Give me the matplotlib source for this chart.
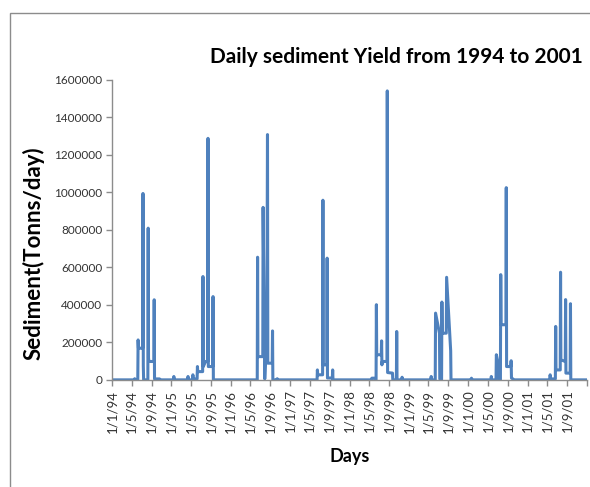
import matplotlib
matplotlib.use("Agg")
import matplotlib.pyplot as plt
import matplotlib.dates as mdates
from matplotlib.ticker import FuncFormatter
from matplotlib.patches import Rectangle
import pandas as pd

# daily sediment yield (tonnes/day), storm events between flat dry-season stretches
dates = [
    "1994-01-01",
    # 1994
    "1994-05-18", "1994-05-20", "1994-05-22", "1994-06-08", "1994-06-10", "1994-06-12",
    "1994-07-08", "1994-07-10", "1994-07-12", "1994-07-14", "1994-08-09", "1994-08-11",
    "1994-08-13", "1994-08-15", "1994-09-15", "1994-09-17", "1994-09-19", "1994-10-20",
    "1994-10-22", "1995-01-14", "1995-01-16", "1995-01-18",
    # 1995
    "1995-04-11", "1995-04-13", "1995-04-15", "1995-05-11", "1995-05-13", "1995-05-15",
    "1995-06-08", "1995-06-10", "1995-06-12", "1995-07-12", "1995-07-14", "1995-07-16",
    "1995-07-30", "1995-08-12", "1995-08-14", "1995-08-16", "1995-09-12", "1995-09-14",
    "1995-09-16",
    # 1996
    "1996-06-12", "1996-06-14", "1996-06-16", "1996-07-16", "1996-07-18", "1996-07-28",
    "1996-08-10", "1996-08-14", "1996-08-16", "1996-09-12", "1996-09-14", "1996-09-16",
    "1996-10-11", "1996-10-13", "1996-10-15",
    # 1997
    "1997-06-15", "1997-06-17", "1997-06-19", "1997-07-19", "1997-07-21", "1997-07-23",
    "1997-08-14", "1997-08-16", "1997-08-18", "1997-09-17", "1997-09-19", "1997-09-21",
    # 1998
    "1998-05-16", "1998-05-18", "1998-06-01", "1998-06-13", "1998-06-15", "1998-06-17",
    "1998-07-15", "1998-07-17", "1998-07-19", "1998-07-21", "1998-08-19", "1998-08-21",
    "1998-08-23", "1998-09-22", "1998-09-24", "1998-10-16", "1998-10-18", "1998-10-20",
    "1998-11-18", "1998-11-20", "1998-11-22",
    # 1999
    "1999-05-16", "1999-05-18", "1999-05-20", "1999-06-12", "1999-06-14", "1999-07-08",
    "1999-07-10", "1999-07-21", "1999-07-23", "1999-07-25", "1999-08-19", "1999-08-21",
    "1999-09-15", "1999-09-17",
    # 2000
    "2000-01-19", "2000-01-21", "2000-01-23", "2000-05-20", "2000-05-22", "2000-05-24",
    "2000-06-20", "2000-06-22", "2000-07-07", "2000-07-09", "2000-07-17", "2000-07-19",
    "2000-07-21", "2000-08-20", "2000-08-22", "2000-08-24", "2000-09-19", "2000-09-21",
    "2000-09-23", "2000-10-10",
    # 2001
    "2001-05-17", "2001-05-19", "2001-05-21", "2001-06-20", "2001-06-22", "2001-06-24",
    "2001-07-20", "2001-07-22", "2001-07-24", "2001-08-20", "2001-08-22", "2001-08-24",
    "2001-09-19", "2001-09-21", "2001-09-23", "2001-12-31",
]
sediment = [
    0,
    # 1994
    0, 6000, 0, 0, 213000, 169000,
    169000, 994000, 75000, 0, 0, 809000,
    117000, 98000, 98000, 427000, 5000, 5000,
    0, 0, 18000, 0,
    # 1995
    0, 18000, 0, 0, 27000, 5000,
    5000, 71000, 44000, 44000, 551000, 71000,
    98000, 98000, 1288000, 71000, 71000, 444000,
    0,
    # 1996
    0, 654000, 124000, 124000, 920000, 5000,
    258000, 1308000, 89000, 89000, 261000, 0,
    0, 6000, 0,
    # 1997
    0, 53000, 27000, 27000, 958000, 80000,
    80000, 649000, 10000, 10000, 53000, 0,
    # 1998
    0, 9000, 9000, 0, 401000, 134000,
    134000, 208000, 80000, 98000, 98000, 1541000,
    39000, 36000, 0, 0, 258000, 0,
    0, 14000, 0,
    # 1999
    0, 18000, 0, 0, 356000, 249000,
    5000, 0, 415000, 249000, 249000, 547000,
    155000, 0,
    # 2000
    0, 9000, 0, 0, 18000, 0,
    0, 134000, 71000, 0, 0, 561000,
    294000, 294000, 1025000, 71000, 71000, 102000,
    10000, 0,
    # 2001
    0, 27000, 5000, 5000, 285000, 53000,
    53000, 574000, 107000, 98000, 428000, 36000,
    36000, 406000, 0, 0,
]
yticks = [0, 200000, 400000, 600000, 800000, 1000000, 1200000, 1400000, 1600000]

plt.rcParams["font.family"] = ["Lato", "DejaVu Sans"]

fig = plt.figure(figsize=(5.9, 4.87), dpi=100)
ax = fig.add_axes([0.19, 0.22, 0.805, 0.616])

t = pd.to_datetime(dates)
ax.plot(t, sediment, color="#4F81BD", linewidth=2.2, solid_joinstyle="round")

ax.set_xlim(pd.Timestamp("1994-01-01"), pd.Timestamp("2002-01-01"))
ax.set_ylim(0, 1600000)
ax.set_yticks(yticks)
ax.yaxis.set_major_formatter(FuncFormatter(lambda v, p: f"{int(v)}"))

ax.xaxis.set_major_locator(mdates.MonthLocator(bymonth=[1, 5, 9]))
def date_label(v, p):
    d = mdates.num2date(v)
    if d.year > 2001:
        return ""
    return f"{d.day}/{d.month}/{d:%y}"
ax.xaxis.set_major_formatter(FuncFormatter(date_label))
plt.setp(ax.get_xticklabels(), rotation=90)

for side in ("top", "right"):
    ax.spines[side].set_visible(False)
for side in ("left", "bottom"):
    ax.spines[side].set_color("#8c8c8c")
    ax.spines[side].set_linewidth(1.0)
ax.tick_params(axis="both", colors="#8c8c8c", length=4, width=1.0, direction="out")
ax.tick_params(axis="y", labelsize=8.5, labelcolor="#333333", pad=3)
ax.tick_params(axis="x", labelsize=9.5, labelcolor="#333333", pad=3)

fig.text(0.987, 0.883, "Daily sediment Yield from 1994 to 2001", ha="right", va="center",
         fontsize=15, fontweight="bold")
fig.text(0.056, 0.48, "Sediment(Tonns/day)", rotation=90, ha="center", va="center",
         fontsize=16, fontweight="bold")
fig.text(0.593, 0.062, "Days", ha="center", va="center", fontsize=13, fontweight="bold")

# chart border
fig.patches.append(Rectangle((10 / 590, -0.05), 1.2, 1 - 13 / 487 + 0.05,
                             transform=fig.transFigure, fill=False,
                             edgecolor="#8c8c8c", linewidth=1.0))

fig.savefig("out.png", dpi=100)
